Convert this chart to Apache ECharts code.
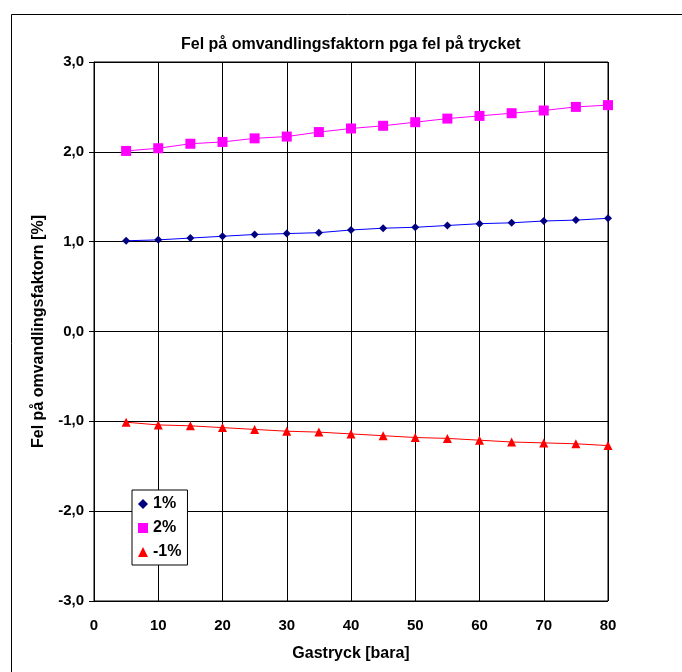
<!DOCTYPE html>
<html><head><meta charset="utf-8">
<script src="https://cdn.jsdelivr.net/npm/echarts@6/dist/echarts.min.js"></script>
<style>html,body{margin:0;padding:0;background:#fff}#c{width:682px;height:672px}</style>
</head><body><div id="c"></div>
<script>
const xVals = [5,10,15,20,25,30,35,40,45,50,55,60,65,70,75,80];
const s1 = [1.01,1.02,1.04,1.06,1.08,1.09,1.10,1.13,1.15,1.16,1.18,1.20,1.21,1.23,1.24,1.26];
const s2 = [2.01,2.04,2.09,2.11,2.15,2.17,2.22,2.26,2.29,2.33,2.37,2.40,2.43,2.46,2.50,2.52];
const s3 = [-1.01,-1.04,-1.05,-1.07,-1.09,-1.11,-1.12,-1.14,-1.16,-1.18,-1.19,-1.21,-1.23,-1.24,-1.25,-1.27];
const names = ['1%','2%','-1%'];
const title = 'Fel på omvandlingsfaktorn pga fel på trycket';
const xTitle = 'Gastryck [bara]';
const yTitle = 'Fel på omvandlingsfaktorn [%]';

const pair = a => xVals.map((x,i)=>[x,a[i]]);
const F = 'Liberation Sans, Arial, sans-serif';
const chart = echarts.init(document.getElementById('c'), null, {renderer:'canvas'});
chart.setOption({
  animation:false,
  backgroundColor:'#fff',
  title:{text:title,left:181,top:37,padding:0,textStyle:{fontFamily:F,fontSize:16,fontWeight:'bold',color:'#000'}},
  graphic:[{type:'rect',left:9,top:12,shape:{width:720,height:720},style:{fill:'none',stroke:'#000',lineWidth:1},silent:true,z:-1}],
  grid:{left:94,right:74,top:62,bottom:71,show:true,borderColor:'#000',borderWidth:1},
  legend:{orient:'vertical',left:132,top:490,backgroundColor:'#fff',borderColor:'#000',borderWidth:1,
    padding:[5,6,4,6],itemGap:6,itemWidth:10,itemHeight:10,
    textStyle:{fontFamily:F,fontSize:16,fontWeight:'bold',color:'#000',lineHeight:18},
    data:[{name:'1%',icon:'diamond'},{name:'2%',icon:'rect'},{name:'-1%',icon:'triangle'}]},
  xAxis:{type:'value',min:0,max:80,interval:10,
    name:xTitle,nameLocation:'middle',nameGap:45,nameTextStyle:{fontFamily:F,fontSize:16,fontWeight:'bold',color:'#000'},
    axisLine:{show:true,lineStyle:{color:'#000'}},axisTick:{show:true,length:5,lineStyle:{color:'#000'}},
    axisLabel:{fontFamily:F,fontSize:15,fontWeight:'bold',color:'#000',margin:17},
    splitLine:{show:true,lineStyle:{color:'#000',width:1}}},
  yAxis:{type:'value',min:-3,max:3,interval:1,
    name:yTitle,nameLocation:'middle',nameGap:47,nameTextStyle:{fontFamily:F,fontSize:16,fontWeight:'bold',color:'#000'},
    axisLine:{show:true,lineStyle:{color:'#000'}},axisTick:{show:true,length:5,lineStyle:{color:'#000'}},
    axisLabel:{fontFamily:F,fontSize:15,fontWeight:'bold',color:'#000',margin:10,formatter:v=>v.toFixed(1).replace('.',',')},
    splitLine:{show:true,lineStyle:{color:'#000',width:1}}},
  series:[
    {name:names[0],type:'line',data:pair(s1),symbol:'diamond',symbolSize:8,
      itemStyle:{color:'#000080'},lineStyle:{color:'#0000ff',width:1}},
    {name:names[1],type:'line',data:pair(s2),symbol:'rect',symbolSize:10,
      itemStyle:{color:'#ff00ff'},lineStyle:{color:'#ff00ff',width:1}},
    {name:names[2],type:'line',data:pair(s3),symbol:'triangle',symbolSize:9,
      itemStyle:{color:'#ff0000'},lineStyle:{color:'#ff0000',width:1}}
  ]
});
</script></body></html>
